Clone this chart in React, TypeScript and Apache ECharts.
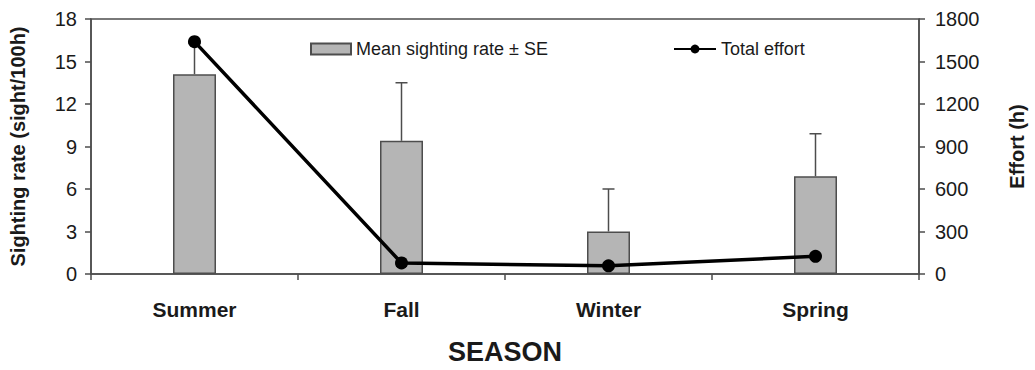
import React, { useEffect, useRef } from "react";
import * as echarts from "echarts";

const seasons = ["Summer", "Fall", "Winter", "Spring"];
const meanRate = [14.1, 9.4, 3.0, 6.9];
const rateSE = [2.2, 4.1, 3.0, 3.0];
const totalEffort = [1640, 78, 58, 125];
const leftTicks = [0, 3, 6, 9, 12, 15, 18];
const rightTicks = [0, 300, 600, 900, 1200, 1500, 1800];

const FONT = "'Liberation Sans', Arial, sans-serif";
const TXT = "#1a1a1a";
const AX = "#4d4d4d";

export default function App() {
  const ref = useRef<HTMLDivElement>(null);
  useEffect(() => {
    if (!ref.current) return;
    const chart = echarts.init(ref.current, null, { renderer: "svg" });
    const errData = seasons.map((_, i) => [i, meanRate[i], meanRate[i] + rateSE[i]]);
    chart.setOption({
      animation: false,
      backgroundColor: "#ffffff",
      textStyle: { fontFamily: FONT },
      grid: {
        left: 91,
        right: 110,
        top: 19,
        bottom: 91,
        show: true,
        borderColor: AX,
        borderWidth: 1.5,
      },
      legend: [
        {
          top: 35,
          left: 305,
          itemWidth: 40,
          itemHeight: 11,
          itemGap: 6,
          textStyle: { fontFamily: FONT, fontSize: 18, color: TXT },
          data: [{ name: "Mean sighting rate ± SE", icon: "rect" }],
        },
        {
          top: 35,
          left: 668,
          itemWidth: 42,
          itemHeight: 11,
          textStyle: { fontFamily: FONT, fontSize: 18, color: TXT },
          data: [{ name: "Total effort" }],
        },
      ],
      xAxis: {
        type: "category",
        data: seasons,
        axisLine: { lineStyle: { color: AX, width: 1.5 } },
        axisTick: { show: true, length: 6, inside: false, lineStyle: { color: AX, width: 1.5 } },
        axisLabel: { margin: 25, fontFamily: FONT, fontSize: 21, fontWeight: "bold", color: TXT },
        name: "SEASON",
        nameLocation: "middle",
        nameGap: 64,
        nameTextStyle: { fontFamily: FONT, fontSize: 27, fontWeight: "bold", color: TXT },
      },
      yAxis: [
        {
          type: "value",
          min: 0,
          max: 18,
          interval: 3,
          splitLine: { show: false },
          axisLine: { show: true, lineStyle: { color: AX, width: 1.5 } },
          axisTick: { show: true, length: 6, lineStyle: { color: AX, width: 1.5 } },
          axisLabel: {
            fontFamily: FONT,
            fontSize: 20,
            color: TXT,
            margin: 14,
            formatter: (v: number) => (leftTicks.includes(v) ? String(v) : ""),
          },
          name: "Sighting rate (sight/100h)",
          nameLocation: "middle",
          nameGap: 63,
          nameTextStyle: { fontFamily: FONT, fontSize: 20, fontWeight: "bold", color: TXT },
        },
        {
          type: "value",
          min: 0,
          max: 1800,
          interval: 300,
          splitLine: { show: false },
          axisLine: { show: true, lineStyle: { color: AX, width: 1.5 } },
          axisTick: { show: true, length: 6, lineStyle: { color: AX, width: 1.5 } },
          axisLabel: {
            fontFamily: FONT,
            fontSize: 20,
            color: TXT,
            margin: 16,
            formatter: (v: number) => (rightTicks.includes(v) ? String(v) : ""),
          },
          name: "Effort (h)",
          nameLocation: "middle",
          nameGap: 88,
          nameRotate: 90,
          nameTextStyle: { fontFamily: FONT, fontSize: 20, fontWeight: "bold", color: TXT },
        },
      ],
      series: [
        {
          name: "Mean sighting rate ± SE",
          type: "bar",
          yAxisIndex: 0,
          data: meanRate,
          barWidth: 43,
          itemStyle: { color: "#b5b5b5", borderColor: AX, borderWidth: 1.5 },
          z: 2,
        },
        {
          name: "err",
          type: "custom",
          yAxisIndex: 0,
          data: errData,
          z: 3,
          renderItem: (params: any, api: any) => {
            const x = api.value(0);
            const lo = api.coord([x, api.value(1)]);
            const hi = api.coord([x, api.value(2)]);
            return {
              type: "group",
              children: [
                {
                  type: "line",
                  shape: { x1: lo[0], y1: lo[1], x2: hi[0], y2: hi[1] },
                  style: { stroke: AX, lineWidth: 1.5 },
                },
                {
                  type: "line",
                  shape: { x1: hi[0] - 6, y1: hi[1], x2: hi[0] + 6, y2: hi[1] },
                  style: { stroke: AX, lineWidth: 1.5 },
                },
              ],
            };
          },
        },
        {
          name: "Total effort",
          type: "line",
          yAxisIndex: 1,
          data: totalEffort,
          symbol: "circle",
          symbolSize: 13,
          lineStyle: { color: "#000", width: 3.5 },
          itemStyle: { color: "#000" },
          z: 5,
        },
      ],
    });
    return () => chart.dispose();
  }, []);
  return (
    <div
      ref={ref}
      style={{ position: "absolute", left: 0, top: 0, width: 1035, height: 370 }}
    />
  );
}
